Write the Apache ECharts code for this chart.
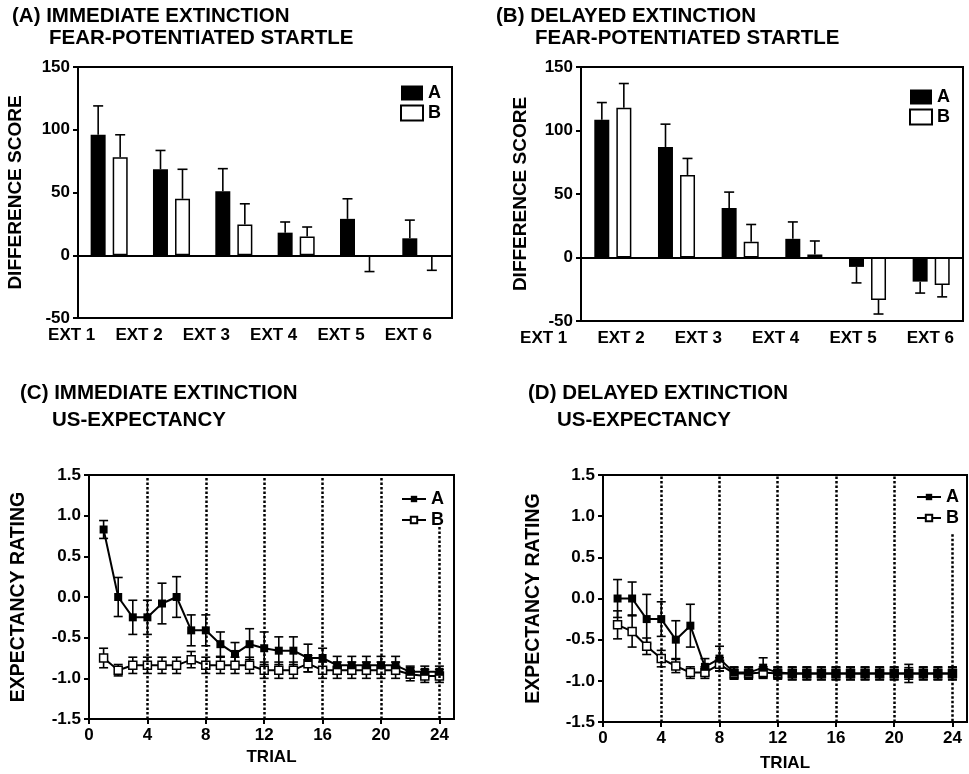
<!DOCTYPE html>
<html lang="en">
<head>
<meta charset="UTF-8">
<title>Extinction</title>
<script src="https://cdnjs.cloudflare.com/ajax/libs/echarts/6.0.0/echarts.min.js"></script>
<style>
  html, body { margin: 0; padding: 0; background: #fff; }
  #main { width: 969px; height: 774px; }
</style>
</head>
<body>
<div id="main"></div>
<script>
// bar panels (fear-potentiated startle)
const cats = ['EXT 1', 'EXT 2', 'EXT 3', 'EXT 4', 'EXT 5', 'EXT 6'];
const immA = [96, 68.5, 51, 18, 29, 13.5];
const immAErr = [23, 15, 18, 8.5, 16, 14.5];
const immB = [78, 45, 24.5, 15, -1, -1];
const immBErr = [18, 23.5, 16.5, 7.5, 12, 11];
const delA = [108.5, 87, 39, 14.7, -7.4, -19];
const delAErr = [13.5, 18, 12.5, 13.3, 12.6, 9];
const delB = [118, 65, 12.4, 2.4, -33.4, -21.6];
const delBErr = [19, 13, 13.6, 10.6, 11.1, 9.4];

// line panels (US-expectancy)
const trials = [1, 2, 3, 4, 5, 6, 7, 8, 9, 10, 11, 12, 13, 14, 15, 16, 17, 18, 19, 20, 21, 22, 23, 24];
const trialTicks = [0, 4, 8, 12, 16, 20, 24];
const immExpA = [0.83, 0.0, -0.25, -0.25, -0.08, 0.0, -0.41, -0.41, -0.58, -0.70, -0.58, -0.63, -0.66, -0.66, -0.75, -0.75, -0.84, -0.84, -0.84, -0.84, -0.84, -0.92, -0.92, -0.92];
const immExpAErr = [0.11, 0.24, 0.21, 0.21, 0.25, 0.25, 0.19, 0.19, 0.15, 0.14, 0.19, 0.2, 0.17, 0.17, 0.17, 0.12, 0.11, 0.11, 0.11, 0.11, 0.11, 0.07, 0.07, 0.07];
const immExpB = [-0.75, -0.9, -0.84, -0.84, -0.84, -0.84, -0.77, -0.84, -0.84, -0.84, -0.84, -0.9, -0.9, -0.9, -0.82, -0.9, -0.9, -0.9, -0.9, -0.9, -0.9, -0.95, -0.97, -0.97];
const immExpBErr = [0.12, 0.07, 0.1, 0.1, 0.1, 0.1, 0.1, 0.1, 0.1, 0.1, 0.1, 0.1, 0.1, 0.1, 0.1, 0.1, 0.1, 0.1, 0.1, 0.1, 0.1, 0.08, 0.08, 0.08];
const delExpA = [0.0, 0.0, -0.25, -0.25, -0.5, -0.33, -0.83, -0.73, -0.9, -0.9, -0.84, -0.9, -0.91, -0.91, -0.91, -0.91, -0.91, -0.91, -0.91, -0.91, -0.91, -0.91, -0.91, -0.91];
const delExpAErr = [0.23, 0.2, 0.3, 0.21, 0.23, 0.26, 0.1, 0.15, 0.07, 0.07, 0.12, 0.07, 0.08, 0.08, 0.08, 0.08, 0.08, 0.08, 0.08, 0.08, 0.11, 0.08, 0.08, 0.08];
const delExpB = [-0.32, -0.4, -0.58, -0.73, -0.82, -0.9, -0.9, -0.8, -0.91, -0.91, -0.9, -0.91, -0.91, -0.91, -0.91, -0.91, -0.91, -0.91, -0.91, -0.91, -0.91, -0.91, -0.91, -0.91];
const delExpBErr = [0.17, 0.19, 0.1, 0.1, 0.08, 0.07, 0.07, 0.08, 0.07, 0.07, 0.07, 0.07, 0.07, 0.07, 0.07, 0.07, 0.07, 0.07, 0.07, 0.07, 0.07, 0.07, 0.07, 0.07];

const FONT = 'Liberation Sans';
const txt = (size) => ({ fontFamily: FONT, fontWeight: 'bold', fontSize: size, color: '#000' });

const chart = echarts.init(document.getElementById('main'));

function barErrData(vals, errs) {
    return vals.map((v, i) => [i, v, v >= 0 ? v + errs[i] : v - errs[i]]);
}
function lineErrData(vals, errs) {
    return trials.map((t, i) => [t, vals[i], errs[i]]);
}

// one-sided error bar beside a bar
function barErr(offset) {
    return function (params, api) {
        const base = api.coord([api.value(0), api.value(1)]);
        const tip = api.coord([api.value(0), api.value(2)]);
        const x = base[0] + offset;
        const st = { stroke: '#000', lineWidth: 1.6 };
        return {
            type: 'group', children: [
                { type: 'line', shape: { x1: x, y1: base[1], x2: x, y2: tip[1] }, style: st },
                { type: 'line', shape: { x1: x - 5, y1: tip[1], x2: x + 5, y2: tip[1] }, style: st }
            ]
        };
    };
}
// two-sided error bar for the line panels
function lineErr(params, api) {
    const x = api.value(0), m = api.value(1), e = api.value(2);
    const hi = api.coord([x, m + e]);
    const lo = api.coord([x, m - e]);
    const st = { stroke: '#000', lineWidth: 1.6 };
    return {
        type: 'group', children: [
            { type: 'line', shape: { x1: hi[0], y1: hi[1], x2: lo[0], y2: lo[1] }, style: st },
            { type: 'line', shape: { x1: hi[0] - 4.5, y1: hi[1], x2: hi[0] + 4.5, y2: hi[1] }, style: st },
            { type: 'line', shape: { x1: lo[0] - 4.5, y1: lo[1], x2: lo[0] + 4.5, y2: lo[1] }, style: st }
        ]
    };
}

const grids = [
    { left: 78, top: 67, width: 374, height: 251 },
    { left: 581, top: 67, width: 382, height: 254 },
    { left: 89, top: 475, width: 365, height: 244 },
    { left: 603, top: 475, width: 364, height: 247 },
    { left: 38, top: 300, width: 404, height: 18 },
    { left: 505, top: 303, width: 464, height: 18 }
].map(g => Object.assign({ show: g.height > 100, borderColor: '#000', borderWidth: 2 }, g));

function barY(idx, gap) {
    return {
        type: 'value', gridIndex: idx, min: -50, max: 150, interval: 50,
        name: 'DIFFERENCE SCORE', nameLocation: 'middle', nameGap: gap, nameTextStyle: txt(19),
        axisLine: { show: true, lineStyle: { color: '#000', width: 2 } },
        axisTick: { show: true, length: 5, lineStyle: { color: '#000', width: 2 } },
        axisLabel: Object.assign({ margin: 8 }, txt(17)),
        splitLine: { show: false }
    };
}
function lineY(idx, gap) {
    return {
        type: 'value', gridIndex: idx, min: -1.5, max: 1.5, interval: 0.5,
        name: 'EXPECTANCY RATING', nameLocation: 'middle', nameGap: gap, nameTextStyle: txt(19.5),
        axisLine: { show: true, lineStyle: { color: '#000', width: 2 } },
        axisTick: { show: true, length: 5, lineStyle: { color: '#000', width: 2 } },
        axisLabel: Object.assign({ margin: 8, formatter: v => v.toFixed(1) }, txt(17)),
        splitLine: { show: false }
    };
}
function barX(idx) {
    return {
        type: 'category', gridIndex: idx, data: cats,
        axisLine: { show: true, onZero: false, lineStyle: { color: '#000', width: 2 } },
        axisTick: { show: false }, axisLabel: { show: false }
    };
}
function labelX(idx) {
    return {
        type: 'category', gridIndex: idx, data: cats,
        axisLine: { show: false }, axisTick: { show: false },
        axisLabel: Object.assign({ margin: 9 }, txt(17))
    };
}
function trialX(idx, gap) {
    return {
        type: 'value', gridIndex: idx, min: 0, max: 25, interval: 4,
        name: 'TRIAL', nameLocation: 'middle', nameGap: gap, nameTextStyle: txt(17),
        axisLine: { show: true, onZero: false, lineStyle: { color: '#000', width: 2 } },
        axisTick: { show: true, length: 5, customValues: trialTicks, lineStyle: { color: '#000', width: 2 } },
        axisLabel: Object.assign({ margin: 8, customValues: trialTicks }, txt(17)),
        splitLine: { show: false }
    };
}

function barSeries(g, a, aErr, b, bErr) {
    return [
        {
            name: 'A', type: 'bar', xAxisIndex: g, yAxisIndex: g, data: a,
            barWidth: 15, barGap: '47%', itemStyle: { color: '#000' },
            markLine: {
                silent: true, symbol: 'none', label: { show: false },
                lineStyle: { color: '#000', width: 2, type: 'solid' },
                data: [{ yAxis: 0 }]
            }
        },
        {
            name: 'B', type: 'bar', xAxisIndex: g, yAxisIndex: g, data: b,
            barWidth: 15, itemStyle: { color: '#fff', borderColor: '#000', borderWidth: 1.5 }
        },
        { type: 'custom', xAxisIndex: g, yAxisIndex: g, data: barErrData(a, aErr), renderItem: barErr(-11), z: 1 },
        { type: 'custom', xAxisIndex: g, yAxisIndex: g, data: barErrData(b, bErr), renderItem: barErr(11), z: 1 }
    ];
}
function expSeries(g, a, aErr, b, bErr, lastTop) {
    return [
        { type: 'custom', xAxisIndex: g, yAxisIndex: g, data: lineErrData(b, bErr), renderItem: lineErr, z: 1 },
        { type: 'custom', xAxisIndex: g, yAxisIndex: g, data: lineErrData(a, aErr), renderItem: lineErr, z: 1 },
        {
            name: 'lineB', type: 'line', xAxisIndex: g, yAxisIndex: g, z: 3,
            data: trials.map((t, i) => [t, b[i]]),
            symbol: 'rect', symbolSize: 8,
            lineStyle: { color: '#000', width: 2 },
            itemStyle: { color: '#fff', borderColor: '#000', borderWidth: 1.5 }
        },
        {
            name: 'lineA', type: 'line', xAxisIndex: g, yAxisIndex: g, z: 4,
            data: trials.map((t, i) => [t, a[i]]),
            symbol: 'rect', symbolSize: 8,
            lineStyle: { color: '#000', width: 2 },
            itemStyle: { color: '#000' },
            markLine: {
                silent: true, symbol: 'none', label: { show: false },
                lineStyle: { color: '#000', width: 2.5, type: [2.5, 2] },
                data: [
                    { xAxis: 4 }, { xAxis: 8 }, { xAxis: 12 }, { xAxis: 16 }, { xAxis: 20 },
                    [{ coord: [24, lastTop] }, { coord: [24, -1.5] }]
                ]
            }
        }
    ];
}

const titleSpec = [
    ['(A) IMMEDIATE EXTINCTION', 12, 6], ['FEAR-POTENTIATED STARTLE', 49, 28],
    ['(B) DELAYED EXTINCTION', 496, 6], ['FEAR-POTENTIATED STARTLE', 535, 28],
    ['(C) IMMEDIATE EXTINCTION', 20, 383], ['US-EXPECTANCY', 52, 410],
    ['(D) DELAYED EXTINCTION', 528, 383], ['US-EXPECTANCY', 557, 410]
];

const barLegend = {
    data: ['A', 'B'], orient: 'vertical', icon: 'rect',
    itemWidth: 22, itemHeight: 15, itemGap: 2, textStyle: txt(18)
};
const lineLegend = {
    data: ['lineA', 'lineB'], orient: 'vertical', formatter: n => n.replace('line', ''),
    itemWidth: 24, itemHeight: 8, itemGap: 3, textStyle: txt(18)
};

const option = {
    animation: false,
    backgroundColor: '#fff',
    title: titleSpec.map(t => ({ text: t[0], left: t[1], top: t[2], padding: 0, textStyle: txt(20.5) })),
    legend: [
        Object.assign({ right: 523, top: 79 }, barLegend),
        Object.assign({ right: 14, top: 83 }, barLegend),
        Object.assign({ right: 520, top: 485 }, lineLegend),
        Object.assign({ right: 5, top: 483 }, lineLegend)
    ],
    grid: grids,
    xAxis: [barX(0), barX(1), trialX(2, 30), trialX(3, 33), labelX(4), labelX(5)],
    yAxis: [barY(0, 53), barY(1, 51), lineY(2, 60), lineY(3, 59),
        { type: 'value', gridIndex: 4, show: false }, { type: 'value', gridIndex: 5, show: false }],
    series: [].concat(
        barSeries(0, immA, immAErr, immB, immBErr),
        barSeries(1, delA, delAErr, delB, delBErr),
        expSeries(2, immExpA, immExpAErr, immExpB, immExpBErr, 0.86),
        expSeries(3, delExpA, delExpAErr, delExpB, delExpBErr, 0.78)
    )
};

chart.setOption(option);
</script>
</body>
</html>
